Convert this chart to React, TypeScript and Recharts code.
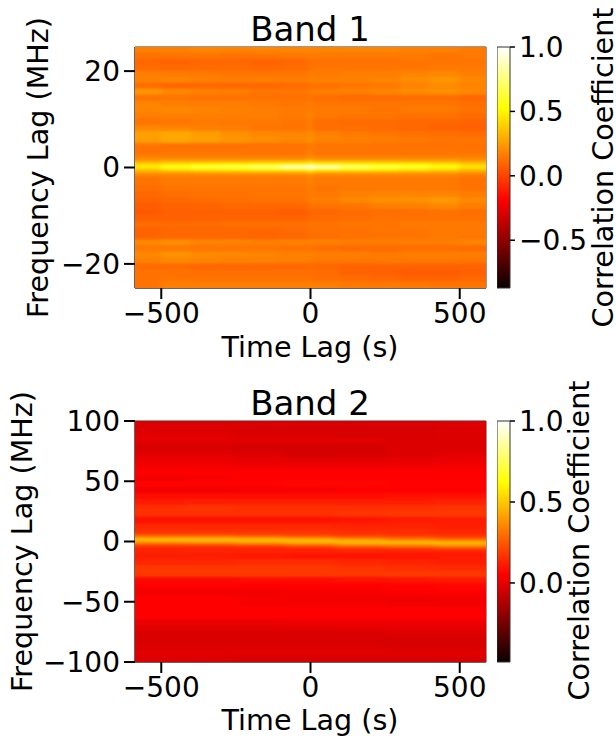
import { ReferenceArea, Scatter, ScatterChart, XAxis, YAxis } from "recharts";

const FONT = "DejaVu Sans";
const PLOT_W = 351;
const PLOT_H = 241;
const TIME_MAX = 588;

const timeTicks = [-500, 0, 500];
const band1FreqTicks = [-20, 0, 20];
const band2FreqTicks = [-100, -50, 0, 50, 100];
const band1BarTicks = [-0.5, 0, 0.5, 1];
const band2BarTicks = [0, 0.5, 1];

// cell edges along time lag (the outer ones run past the frame and get clipped)
const band1TimeEdges = [-640, -500, -400, -300, -200, -100, -8, 8, 100, 200, 300, 400, 500, 640];
const band2TimeEdges = [-640, -420, -252, -84, 84, 252, 420, 640];

// cell edges along frequency lag, top to bottom
const band1FreqEdges = [
  27, 23.75, 22.5, 21.25, 20, 18.75, 17.5, 16.25, 15, 13.75, 12.5, 11.25, 10, 8.75, 7.5, 6.25, 5,
  3.75, 3.25, 2.75, 2.25, 1.75, 1.25, 0.75, 0.25, -0.25, -0.75, -1.25, -1.75, -2.25, -2.75, -3.25,
  -3.75, -5, -6.25, -7.5, -8.75, -10, -11.25, -12.5, -13.75, -15, -16.25, -17.5, -18.75, -20,
  -21.25, -22.5, -23.75, -27,
];
const band2FreqEdges = [
  108, 95, 90, 85, 80, 75, 70, 65, 60, 55, 50, 45, 40, 35, 30, 25, 20, 15, 10, 8, 6, 4, 2, 0, -2,
  -4, -6, -8, -10, -15, -20, -25, -30, -35, -40, -45, -50, -55, -60, -65, -70, -75, -80, -85, -90,
  -95, -108,
];

// correlation in hundredths, one line per frequency row
const band1Values = [
  [17, 17, 18, 18, 18, 18, 18, 18, 18, 18, 17, 17, 15],
  [13, 14, 14, 13, 14, 15, 16, 15, 15, 15, 15, 14, 15],
  [10, 9, 10, 10, 9, 10, 13, 13, 13, 13, 14, 14, 14],
  [11, 10, 11, 11, 10, 11, 13, 14, 14, 14, 14, 15, 15],
  [16, 16, 15, 14, 14, 14, 16, 15, 16, 16, 18, 19, 16],
  [17, 18, 17, 16, 16, 16, 18, 17, 17, 18, 20, 23, 19],
  [12, 10, 10, 10, 10, 11, 13, 13, 14, 15, 18, 20, 18],
  [23, 19, 17, 16, 14, 14, 15, 16, 17, 18, 20, 21, 19],
  [14, 14, 13, 13, 13, 13, 14, 12, 11, 11, 12, 12, 10],
  [18, 17, 16, 16, 15, 14, 16, 14, 14, 14, 14, 14, 12],
  [18, 19, 18, 17, 16, 15, 17, 15, 15, 14, 15, 15, 13],
  [16, 17, 17, 16, 16, 15, 18, 15, 14, 14, 13, 13, 11],
  [14, 14, 15, 15, 15, 14, 17, 12, 11, 11, 10, 10, 9],
  [19, 18, 17, 16, 14, 14, 17, 12, 12, 11, 10, 9, 8],
  [26, 28, 25, 21, 19, 18, 21, 17, 15, 14, 13, 12, 11],
  [25, 28, 26, 23, 21, 19, 22, 18, 17, 16, 15, 14, 14],
  [14, 13, 13, 13, 13, 13, 16, 14, 14, 13, 13, 13, 13],
  [13, 14, 14, 14, 14, 14, 17, 14, 14, 14, 14, 14, 13],
  [13, 14, 14, 14, 14, 14, 17, 14, 14, 14, 14, 14, 14],
  [15, 15, 15, 15, 15, 15, 18, 15, 15, 15, 15, 15, 15],
  [18, 18, 18, 18, 18, 18, 21, 18, 18, 18, 18, 18, 18],
  [22, 23, 23, 23, 24, 24, 29, 24, 24, 24, 23, 23, 21],
  [32, 34, 35, 35, 36, 38, 44, 38, 37, 36, 35, 33, 30],
  [42, 48, 52, 54, 56, 62, 74, 62, 57, 54, 52, 48, 40],
  [48, 58, 64, 68, 76, 92, 100, 92, 76, 68, 62, 56, 46],
  [38, 46, 50, 52, 56, 62, 76, 60, 56, 52, 48, 44, 36],
  [28, 30, 32, 33, 34, 34, 42, 34, 33, 32, 31, 29, 26],
  [20, 20, 21, 21, 21, 21, 26, 21, 21, 21, 20, 20, 18],
  [15, 16, 16, 16, 16, 16, 20, 16, 16, 16, 16, 16, 14],
  [13, 15, 15, 15, 15, 15, 18, 15, 15, 15, 15, 15, 13],
  [13, 15, 15, 15, 15, 15, 18, 15, 15, 15, 15, 15, 13],
  [13, 15, 15, 15, 15, 15, 18, 15, 15, 15, 15, 15, 13],
  [12, 14, 14, 14, 14, 14, 17, 14, 15, 15, 15, 15, 13],
  [10, 12, 13, 13, 14, 14, 16, 15, 17, 18, 18, 18, 16],
  [9, 10, 11, 12, 13, 13, 16, 16, 19, 21, 22, 24, 19],
  [7, 9, 9, 10, 10, 10, 13, 13, 14, 16, 17, 19, 16],
  [6, 8, 8, 8, 8, 7, 10, 10, 11, 12, 12, 13, 12],
  [8, 8, 9, 9, 9, 9, 11, 11, 12, 13, 13, 13, 13],
  [11, 11, 11, 12, 12, 12, 14, 13, 14, 14, 15, 15, 15],
  [9, 10, 10, 10, 10, 11, 13, 13, 13, 14, 14, 15, 15],
  [9, 10, 10, 10, 9, 10, 12, 12, 13, 13, 14, 15, 14],
  [19, 21, 18, 18, 17, 17, 18, 17, 16, 16, 16, 16, 18],
  [15, 15, 14, 14, 14, 13, 14, 12, 11, 11, 12, 12, 11],
  [19, 22, 20, 19, 18, 17, 18, 16, 16, 15, 16, 16, 16],
  [17, 19, 18, 17, 17, 16, 17, 15, 15, 15, 15, 15, 14],
  [11, 11, 10, 10, 10, 10, 12, 10, 9, 9, 9, 9, 9],
  [13, 13, 12, 12, 12, 12, 13, 11, 9, 8, 7, 7, 8],
  [13, 14, 13, 13, 13, 13, 14, 12, 11, 10, 9, 9, 10],
  [13, 16, 16, 16, 16, 16, 17, 16, 15, 15, 15, 14, 14],
];

const band2Values = [
  [-5, -5, -5, -5, -5, -5, -4],
  [-4, -4, -5, -5, -5, -5, -4],
  [-3, -3, -4, -4, -5, -5, -4],
  [-3, -3, -3, -3, -3, -4, -4],
  [-5, -5, -6, -6, -6, -4, -4],
  [-3, -3, -4, -6, -5, -4, -3],
  [-1, -1, -2, -3, -3, -2, -1],
  [1, 1, 0, 0, 0, 0, 1],
  [4, 4, 4, 3, 3, 4, 4],
  [1, 2, 5, 5, 4, 3, 3],
  [6, 6, 6, 7, 7, 6, 6],
  [1, 1, 2, 2, 3, 3, 3],
  [8, 8, 8, 8, 8, 9, 9],
  [11, 12, 12, 12, 12, 12, 13],
  [16, 17, 16, 16, 16, 16, 17],
  [16, 16, 16, 16, 17, 18, 18],
  [9, 9, 9, 9, 10, 11, 12],
  [14, 14, 14, 14, 13, 13, 12],
  [16, 16, 16, 16, 15, 15, 14],
  [17, 17, 17, 17, 16, 15, 14],
  [24, 24, 22, 20, 18, 17, 16],
  [38, 38, 36, 32, 27, 24, 21],
  [48, 48, 47, 46, 42, 36, 32],
  [40, 41, 44, 47, 48, 48, 46],
  [24, 25, 28, 32, 38, 40, 44],
  [15, 15, 16, 19, 24, 26, 30],
  [13, 13, 13, 13, 15, 16, 18],
  [14, 14, 13, 13, 13, 13, 13],
  [12, 12, 11, 10, 10, 10, 11],
  [14, 14, 15, 15, 14, 13, 12],
  [18, 18, 18, 18, 17, 16, 15],
  [18, 18, 18, 18, 18, 18, 18],
  [7, 7, 8, 8, 9, 10, 11],
  [4, 4, 4, 4, 5, 6, 7],
  [1, 1, 1, 2, 2, 3, 3],
  [3, 3, 2, 1, 1, 0, 1],
  [3, 3, 2, 2, 2, 1, 1],
  [5, 5, 4, 4, 4, 3, 3],
  [4, 4, 4, 3, 3, 3, 3],
  [-1, -1, -1, 0, 0, 0, 0],
  [-3, -3, -3, -3, -2, -2, -2],
  [-5, -5, -5, -5, -5, -4, -4],
  [-5, -5, -5, -5, -5, -5, -5],
  [-4, -4, -4, -4, -4, -5, -5],
  [-3, -3, -3, -3, -3, -3, -3],
  [-4, -4, -5, -5, -5, -5, -5],
];

const fmt = (v: number) => (v < 0 ? `\u2212${Math.abs(v)}` : String(v));
const fmtBar = (v: number) => (v < 0 ? `\u2212${Math.abs(v).toFixed(1)}` : v.toFixed(1));

// matplotlib "hot"
function hot(value: number, vmin: number): string {
  const t = Math.min(1, Math.max(0, (value - vmin) / (1 - vmin)));
  const r = Math.min(1, 0.0416 + t / 0.365);
  const g = Math.min(1, Math.max(0, (t - 0.365) / 0.381));
  const b = Math.min(1, Math.max(0, (t - 0.746) / 0.254));
  return `rgb(${Math.round(r * 255)},${Math.round(g * 255)},${Math.round(b * 255)})`;
}

function buildCells(values: number[][], timeEdges: number[], freqEdges: number[]) {
  const cells: any[] = [];
  values.forEach((row, i) => {
    row.forEach((v, j) => {
      const x0 = timeEdges[j];
      const x1 = timeEdges[j + 1];
      const y0 = freqEdges[i];
      const y1 = freqEdges[i + 1];
      cells.push({ t: (x0 + x1) / 2, f: (y0 + y1) / 2, v: v / 100, x0, x1, y0, y1 });
    });
  });
  return cells;
}

function HeatCell(props: any) {
  const { cx, cy, payload, freqMax, vmin } = props;
  const sx = PLOT_W / (2 * TIME_MAX);
  const sy = PLOT_H / (2 * freqMax);
  const left = cx + (payload.x0 - payload.t) * sx;
  const top = cy - (payload.y0 - payload.f) * sy;
  return (
    <rect
      x={left - 0.5}
      y={top - 0.5}
      width={(payload.x1 - payload.x0) * sx + 1}
      height={(payload.y0 - payload.y1) * sy + 1}
      fill={hot(payload.v, vmin)}
    />
  );
}

const tickStyle = { fontSize: 28, fill: "#000", fontFamily: FONT };
const tickLine = { stroke: "#000", strokeWidth: 2 };

function Panel(props: any) {
  const { id, top, title, height, cells, freqMax, freqTicks, vmin, barTicks, yLabelX, xLabelY, barLabelX, barLabelY, blur } = props;
  const bottom = height - 47 - PLOT_H;
  return (
    <div style={{ position: "absolute", left: 0, top, width: 616, height }}>
      <style>{`.${id}{filter:url(#${id}-blur);clip-path:url(#${id}-clip);}`}</style>
      <svg width={0} height={0} style={{ position: "absolute" }}>
        <defs>
          <filter id={`${id}-blur`} x="-5%" y="-5%" width="110%" height="110%" colorInterpolationFilters="sRGB">
            <feGaussianBlur stdDeviation={blur} />
          </filter>
          <clipPath id={`${id}-clip`}>
            <rect x={135} y={47} width={PLOT_W} height={PLOT_H} />
          </clipPath>
          <linearGradient id={`${id}-bar`} x1="0" y1="1" x2="0" y2="0">
            <stop offset="0" stopColor="#0b0000" />
            <stop offset="0.365" stopColor="#ff0000" />
            <stop offset="0.746" stopColor="#ffff00" />
            <stop offset="1" stopColor="#ffffff" />
          </linearGradient>
        </defs>
      </svg>
      <div style={{ position: "absolute", left: 0, top: 0 }}>
        <ScatterChart
          width={616}
          height={height}
          margin={{ top: 47, right: 130, bottom: 0, left: 0 }}
        >
          <XAxis
            type="number"
            dataKey="t"
            domain={[-TIME_MAX, TIME_MAX]}
            ticks={timeTicks}
            interval={0}
            allowDataOverflow
            tickFormatter={fmt}
            tick={tickStyle}
            tickLine={tickLine}
            tickSize={11}
            tickMargin={4}
            axisLine={{ stroke: "#333" }}
            height={bottom}
          />
          <YAxis
            type="number"
            dataKey="f"
            domain={[-freqMax, freqMax]}
            ticks={freqTicks}
            interval={0}
            allowDataOverflow
            tickFormatter={fmt}
            tick={tickStyle}
            tickLine={tickLine}
            tickSize={11}
            tickMargin={4}
            axisLine={{ stroke: "#333" }}
            width={135}
          />
          <Scatter
            className={id}
            data={cells}
            isAnimationActive={false}
            shape={(p: any) => <HeatCell {...p} freqMax={freqMax} vmin={vmin} />}
          />
          <ReferenceArea
            x1={-TIME_MAX}
            x2={TIME_MAX}
            y1={-freqMax}
            y2={freqMax}
            fill="none"
            stroke="#333"
            strokeWidth={1}
          />
          <text x={310} y={41} textAnchor="middle" fontSize={34} fontFamily={FONT} fill="#000">
            {title}
          </text>
          <text x={310} y={xLabelY} textAnchor="middle" fontSize={28.6} fontFamily={FONT} fill="#000">
            Time Lag (s)
          </text>
          <text
            x={yLabelX}
            y={167.5}
            textAnchor="middle"
            fontSize={28.6}
            fontFamily={FONT}
            fill="#000"
            transform={`rotate(-90 ${yLabelX} 167.5)`}
          >
            Frequency Lag (MHz)
          </text>
        </ScatterChart>
      </div>
      <div style={{ position: "absolute", left: 497, top: 0 }}>
        <ScatterChart
          width={119}
          height={height}
          margin={{ top: 47, right: 0, bottom: bottom, left: 0 }}
        >
          <XAxis type="number" dataKey="x" domain={[0, 1]} hide />
          <YAxis
            type="number"
            dataKey="y"
            orientation="right"
            domain={[vmin, 1]}
            ticks={barTicks}
            interval={0}
            allowDataOverflow
            tickFormatter={fmtBar}
            tick={tickStyle}
            tickLine={{ stroke: "#000", strokeWidth: 1.5 }}
            tickSize={5}
            tickMargin={4}
            axisLine={false}
            width={106}
          />
          <Scatter data={[{ x: 0, y: vmin }, { x: 1, y: 1 }]} isAnimationActive={false} shape={() => <g />} />
          <ReferenceArea
            x1={0}
            x2={1}
            y1={vmin}
            y2={1}
            fill={`url(#${id}-bar)`}
            fillOpacity={1}
            stroke="#333"
            strokeWidth={1}
          />
          <text
            x={barLabelX}
            y={barLabelY}
            textAnchor="middle"
            fontSize={28.6}
            fontFamily={FONT}
            fill="#000"
            transform={`rotate(-90 ${barLabelX} ${barLabelY})`}
          >
            Correlation Coefficient
          </text>
        </ScatterChart>
      </div>
    </div>
  );
}

export default function App() {
  const cells1 = buildCells(band1Values, band1TimeEdges, band1FreqEdges);
  const cells2 = buildCells(band2Values, band2TimeEdges, band2FreqEdges);
  return (
    <div style={{ position: "absolute", left: 0, top: 0, width: 616, height: 736, overflow: "hidden", background: "#fff" }}>
      <Panel
        id="band1"
        top={0}
        height={370}
        title="Band 1"
        cells={cells1}
        freqMax={25}
        freqTicks={band1FreqTicks}
        vmin={-0.871}
        barTicks={band1BarTicks}
        yLabelX={48}
        xLabelY={357}
        barLabelX={116}
        barLabelY={167.5}
        blur="2.5 0.9"
      />
      <Panel
        id="band2"
        top={374}
        height={362}
        title="Band 2"
        cells={cells2}
        freqMax={100}
        freqTicks={band2FreqTicks}
        vmin={-0.488}
        barTicks={band2BarTicks}
        yLabelX={32}
        xLabelY={356}
        barLabelX={92}
        barLabelY={166.5}
        blur="5 0.8"
      />
    </div>
  );
}
